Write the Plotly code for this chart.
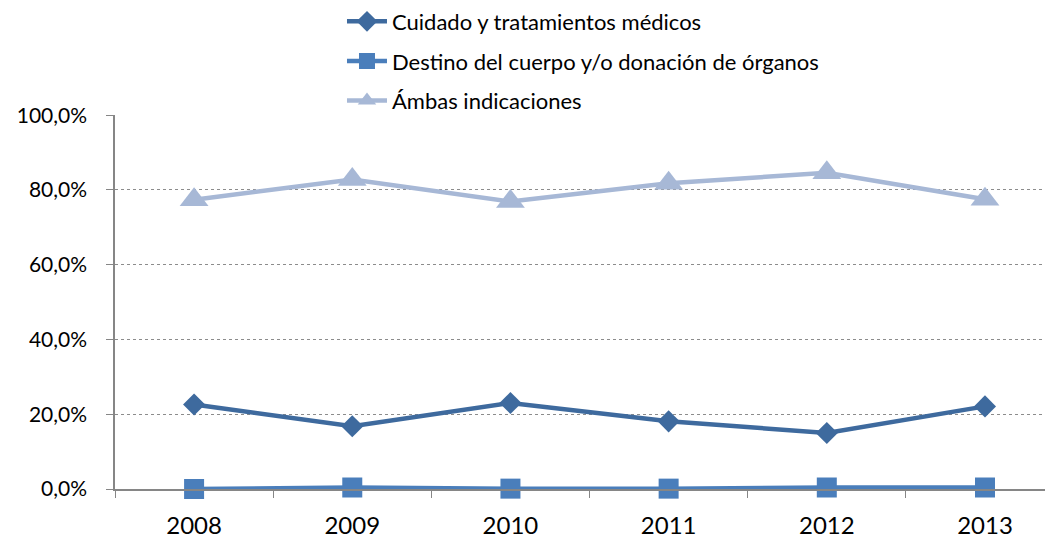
import plotly.graph_objects as go

years = ['2008', '2009', '2010', '2011', '2012', '2013']

cuidado = [22.6, 16.8, 23.0, 18.1, 15.0, 22.1]
destino = [0.0, 0.4, 0.1, 0.1, 0.4, 0.4]
ambas = [77.4, 82.8, 76.9, 81.8, 84.6, 77.5]

nombres = ['Cuidado y tratamientos médicos',
           'Destino del cuerpo y/o donación de órganos',
           'Ámbas indicaciones']

FONT = 'Lato, Open Sans, sans-serif'

fig = go.Figure()

series = [
    (cuidado, '#3E6A9E', 'diamond', 17),
    (destino, '#4A7EBB', 'square', 20),
    (ambas, '#A7B8D6', 'triangle-up', 25),
]

for i, (vals, color, symbol, size) in enumerate(series):
    fig.add_trace(go.Scatter(
        x=years, y=vals, name=nombres[i],
        mode='lines+markers',
        line=dict(color=color, width=4.5),
        marker=dict(symbol=symbol, size=size, color=color),
        legendgroup='g%d' % i,
        cliponaxis=False,
    ))

# la pagina tiene 8px de margen en el body, se compensa aqui
fig.update_layout(
    width=1045, height=530,
    margin=dict(l=107, r=0, t=107, b=49, autoexpand=False),
    plot_bgcolor='white', paper_bgcolor='white',
    font=dict(family=FONT, size=24, color='black'),
    separators=',.',
    showlegend=True,
    legend=dict(
        orientation='v', x=0.242, xanchor='left', y=1.306, yanchor='top',
        font=dict(size=22, family=FONT), tracegroupgap=8,
        bgcolor='rgba(0,0,0,0)', itemwidth=40,
    ),
    xaxis=dict(
        type='category', range=[-0.5, 5.43],
        showline=True, linecolor='#868686', linewidth=1.5,
        ticks='outside', tickson='boundaries', ticklen=7, tickcolor='#868686',
        showgrid=False, zeroline=False, automargin=False,
        tickfont=dict(size=24), ticklabelstandoff=14,
    ),
    yaxis=dict(
        range=[0, 100.05], dtick=20, tick0=0,
        tickformat='.1f', ticksuffix='%',
        showline=True, linecolor='#868686', linewidth=1.5,
        ticks='outside', ticklen=7, tickcolor='#868686',
        showgrid=True, gridcolor='#8C8C8C', griddash='dot', gridwidth=1,
        zeroline=False, automargin=False,
        tickfont=dict(size=21), ticklabelstandoff=15,
    ),
)

fig.write_html('out.html')
